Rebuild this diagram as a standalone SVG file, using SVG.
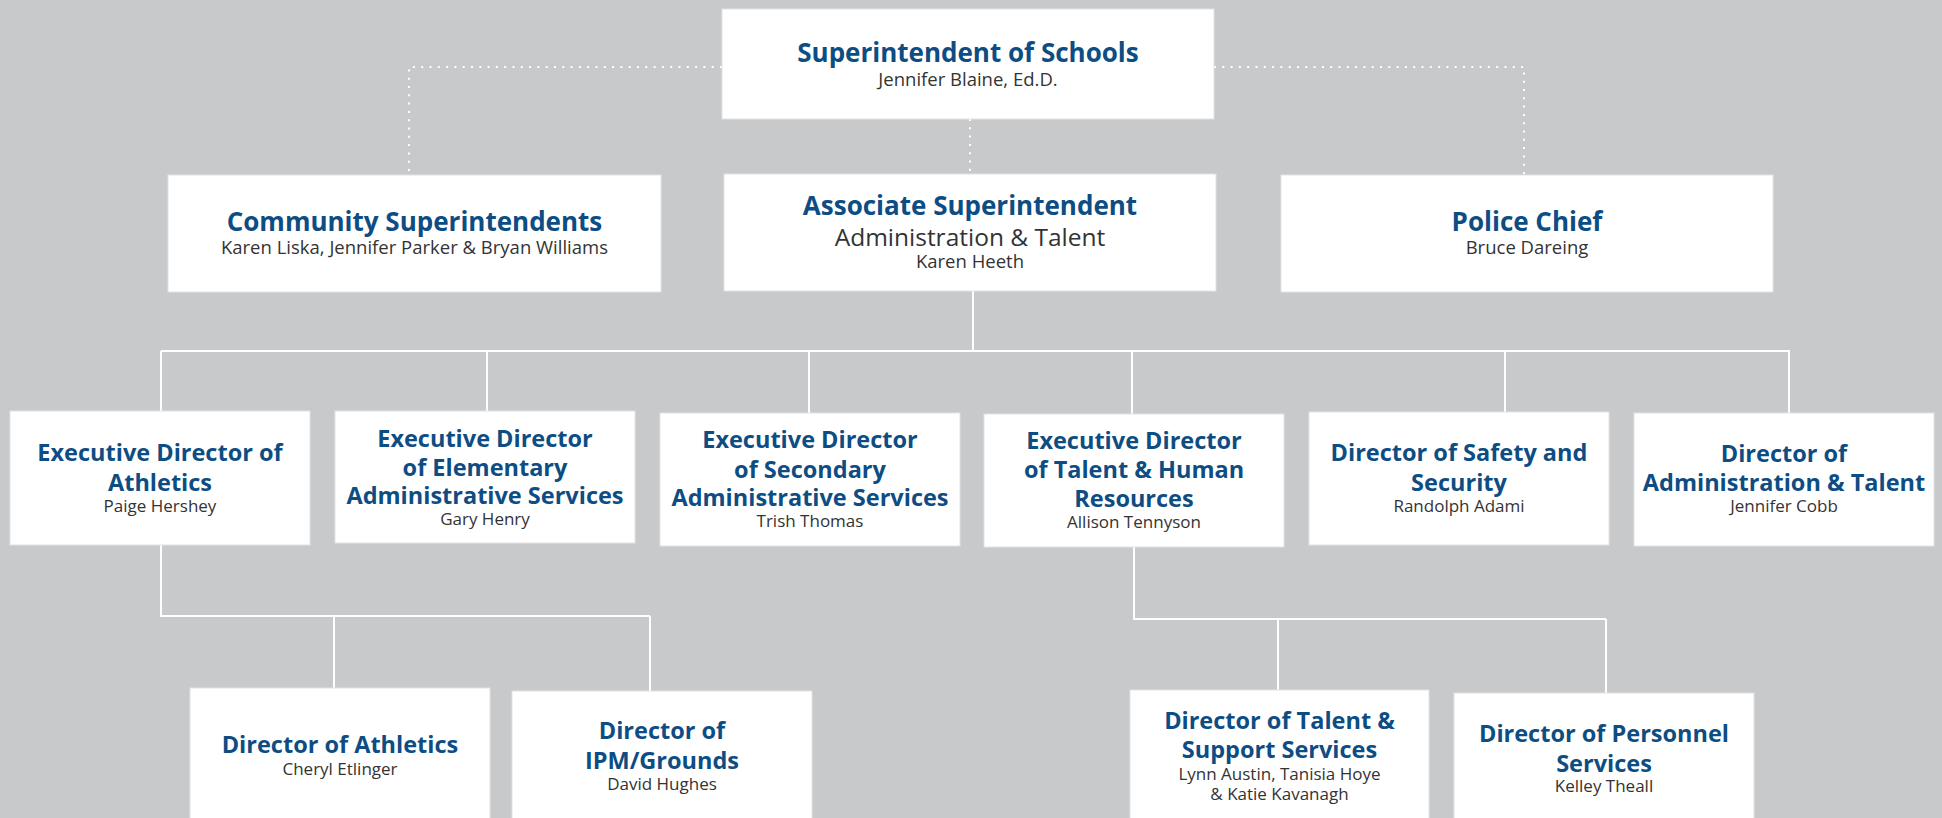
<svg xmlns="http://www.w3.org/2000/svg" width="1942" height="818" viewBox="0 0 1942 818">
<style>
.box{fill:#ffffff;stroke:#e2e3e5;stroke-width:1}
.t1{font-family:"Open Sans",Lato,sans-serif;font-weight:700;font-size:26px;fill:#0d4d83;text-anchor:middle}
.t2{font-family:"Open Sans",Lato,sans-serif;font-weight:700;font-size:23.5px;fill:#0d4d83;text-anchor:middle}
.s{font-family:"Open Sans",Lato,sans-serif;font-size:17px;fill:#333333;text-anchor:middle}
.s1{font-family:"Open Sans",Lato,sans-serif;font-size:18.5px;fill:#333333;text-anchor:middle}
.s2{font-family:"Open Sans",Lato,sans-serif;font-size:24.5px;fill:#333333;text-anchor:middle}
.solid{fill:none;stroke:#ffffff;stroke-width:2}
.dot{fill:none;stroke:#ffffff;stroke-width:2;stroke-dasharray:2 6.3}
</style>
<rect width="1942" height="818" fill="#c8c9cb"/>
<g id="connectors">
<path class="dot" d="M722 67H409V175"/>
<path class="dot" d="M1214 67H1524V175"/>
<path class="dot" d="M970 119V174"/>
<path class="solid" d="M973 291V351M161 351H1790M161 351V411M487 351V411M809 351V413M1132 351V414M1505 351V412M1789 351V413"/>
<path class="solid" d="M161 545V616H650M334 616V688M650 616V691"/>
<path class="solid" d="M1134 547V619H1606M1278 619V690M1606 619V693"/>
</g>
<g id="superintendent">
<rect class="box" x="722" y="9" width="492" height="110"/>
<text class="t1" x="968" y="62">Superintendent of Schools</text>
<text class="s1" x="968" y="86">Jennifer Blaine, Ed.D.</text>
</g>
<g id="community">
<rect class="box" x="168" y="175" width="493" height="117"/>
<text class="t1" x="414.5" y="231">Community Superintendents</text>
<text class="s1" x="414.5" y="254">Karen Liska, Jennifer Parker &amp; Bryan Williams</text>
</g>
<g id="associate">
<rect class="box" x="724" y="174" width="492" height="117"/>
<text class="t1" x="970" y="215">Associate Superintendent</text>
<text class="s2" x="970" y="246">Administration &amp; Talent</text>
<text class="s1" x="970" y="268">Karen Heeth</text>
</g>
<g id="police">
<rect class="box" x="1281" y="175" width="492" height="117"/>
<text class="t1" x="1527" y="231">Police Chief</text>
<text class="s1" x="1527" y="254">Bruce Dareing</text>
</g>
<g id="exec-athletics">
<rect class="box" x="10" y="411" width="300" height="134"/>
<text class="t2" x="160" y="461">Executive Director of</text>
<text class="t2" x="160" y="490.5">Athletics</text>
<text class="s" x="160" y="511.5">Paige Hershey</text>
</g>
<g id="exec-elementary">
<rect class="box" x="335" y="411" width="300" height="132"/>
<text class="t2" x="485" y="447">Executive Director</text>
<text class="t2" x="485" y="476">of Elementary</text>
<text class="t2" x="485" y="504">Administrative Services</text>
<text class="s" x="485" y="525">Gary Henry</text>
</g>
<g id="exec-secondary">
<rect class="box" x="660" y="413" width="300" height="133"/>
<text class="t2" x="810" y="448">Executive Director</text>
<text class="t2" x="810" y="477.5">of Secondary</text>
<text class="t2" x="810" y="506">Administrative Services</text>
<text class="s" x="810" y="527">Trish Thomas</text>
</g>
<g id="exec-talent-hr">
<rect class="box" x="984" y="414" width="300" height="133"/>
<text class="t2" x="1134" y="449">Executive Director</text>
<text class="t2" x="1134" y="478">of Talent &amp; Human</text>
<text class="t2" x="1134" y="506.5">Resources</text>
<text class="s" x="1134" y="528">Allison Tennyson</text>
</g>
<g id="safety-security">
<rect class="box" x="1309" y="412" width="300" height="133"/>
<text class="t2" x="1459" y="461">Director of Safety and</text>
<text class="t2" x="1459" y="490.5">Security</text>
<text class="s" x="1459" y="511.5">Randolph Adami</text>
</g>
<g id="admin-talent">
<rect class="box" x="1634" y="413" width="300" height="133"/>
<text class="t2" x="1784" y="461.5">Director of</text>
<text class="t2" x="1784" y="490.5">Administration &amp; Talent</text>
<text class="s" x="1784" y="511.5">Jennifer Cobb</text>
</g>
<g id="director-athletics">
<rect class="box" x="190" y="688" width="300" height="140"/>
<text class="t2" x="340" y="753">Director of Athletics</text>
<text class="s" x="340" y="775">Cheryl Etlinger</text>
</g>
<g id="ipm-grounds">
<rect class="box" x="512" y="691" width="300" height="140"/>
<text class="t2" x="662" y="739">Director of</text>
<text class="t2" x="662" y="769">IPM/Grounds</text>
<text class="s" x="662" y="790">David Hughes</text>
</g>
<g id="talent-support">
<rect class="box" x="1130" y="690" width="299" height="140"/>
<text class="t2" x="1279.5" y="729">Director of Talent &amp;</text>
<text class="t2" x="1279.5" y="758">Support Services</text>
<text class="s" x="1279.5" y="780">Lynn Austin, Tanisia Hoye</text>
<text class="s" x="1279.5" y="800">&amp; Katie Kavanagh</text>
</g>
<g id="personnel">
<rect class="box" x="1454" y="693" width="300" height="140"/>
<text class="t2" x="1604" y="741.5">Director of Personnel</text>
<text class="t2" x="1604" y="771.5">Services</text>
<text class="s" x="1604" y="792">Kelley Theall</text>
</g>
</svg>
